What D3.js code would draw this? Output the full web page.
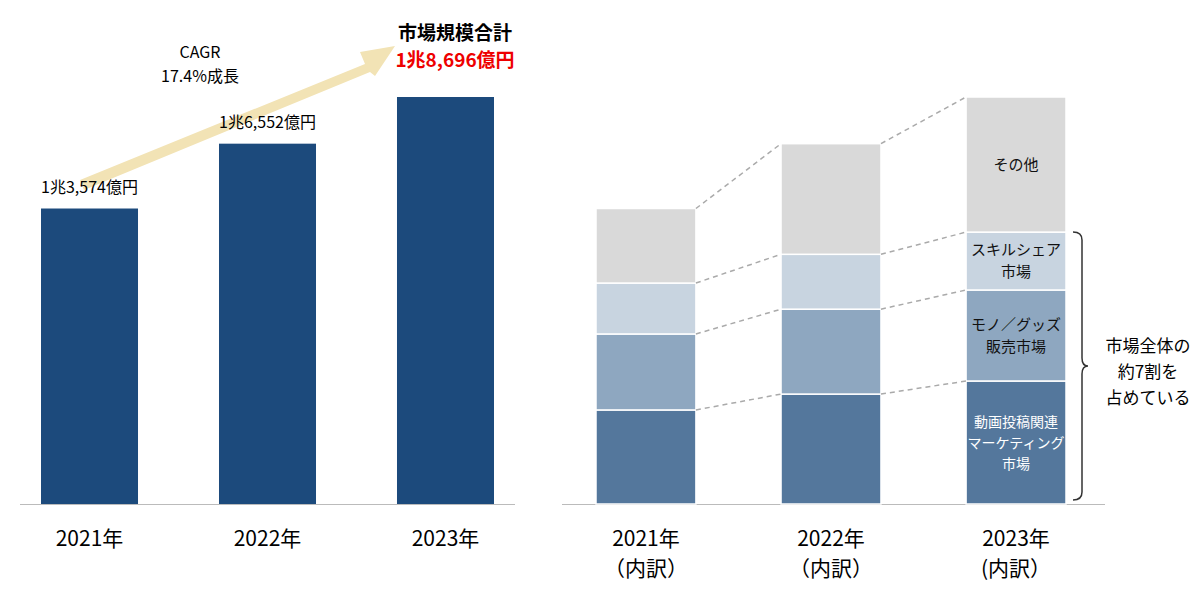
<!DOCTYPE html><html><head><meta charset="utf-8"><script src="https://cdn.jsdelivr.net/npm/d3@7"></script>
<style>body{margin:0;background:#fff}text{font-family:"Noto Sans CJK JP","Noto Sans",sans-serif}</style></head><body>
<svg id="c" width="1200" height="593"></svg>
<script>
const years=["2021年","2022年","2023年"];
const totals=[13574,16552,18696];
const totalLabels=["1兆3,574億円","1兆6,552億円","1兆8,696億円"];
const segNames=["動画投稿関連マーケティング市場","モノ／グッズ販売市場","スキルシェア市場","その他"];
const seg0=[4320,5050,5650];
const seg1=[3490,3900,4180];
const seg2=[2340,2520,2660];
const seg3=[3424,5082,6206];
const colors=["#54779c","#8ea7c0","#c8d4e0","#d9d9d9"];
const svg=d3.select("#c");
const y=d3.scaleLinear().domain([0,18696]).range([504,97]);
const xL=d3.scaleBand().domain(years).range([41,494]).paddingInner(0.455).paddingOuter(0);
const xR=d3.scaleBand().domain(years).range([596,1066]).paddingInner(0.46).paddingOuter(0);
svg.append("path").attr("d","M80,180 L365,64 L360,52 L395,46 L375,76 L370,72 L84,190 Z").attr("fill","#f2e3b5");
svg.selectAll(".lb").data(totals).join("rect").attr("x",(d,i)=>xL(years[i])).attr("width",xL.bandwidth())
 .attr("y",d=>y(d)).attr("height",d=>504-y(d)).attr("fill","#1c4a7c");
svg.append("line").attr("x1",20).attr("x2",515).attr("y1",504.5).attr("y2",504.5).attr("stroke","#bbb");
svg.append("line").attr("x1",562).attr("x2",1105).attr("y1",504.5).attr("y2",504.5).attr("stroke","#bbb");
[0,1].forEach(i=>svg.append("text").attr("x",xL(years[i])+xL.bandwidth()/2).attr("y",y(totals[i])-16).attr("text-anchor","middle").attr("font-size",16).text(totalLabels[i]));
svg.append("text").attr("x",455).attr("y",40).attr("text-anchor","middle").attr("font-size",19).attr("font-weight","bold").text("市場規模合計");
svg.append("text").attr("x",455).attr("y",67).attr("text-anchor","middle").attr("font-size",19).attr("font-weight","bold").attr("fill","#e00").text(totalLabels[2]);
svg.append("text").attr("x",200).attr("y",58).attr("text-anchor","middle").attr("font-size",16).text("CAGR");
svg.append("text").attr("x",200).attr("y",82).attr("text-anchor","middle").attr("font-size",16).text("17.4%成長");
years.forEach(yr=>svg.append("text").attr("x",xL(yr)+xL.bandwidth()/2).attr("y",546).attr("text-anchor","middle").attr("font-size",21).text(yr));
const segs=[seg0,seg1,seg2,seg3];
const tops=years.map((_,i)=>{let c=0;return segs.map(s=>{const b=c;c+=s[i];return [b,c];});});
years.forEach((yr,i)=>{tops[i].forEach((r,k)=>{
 svg.append("rect").attr("x",xR(yr)).attr("width",xR.bandwidth()).attr("y",y(r[1])).attr("height",y(r[0])-y(r[1])).attr("fill",colors[k]).attr("stroke","#fff").attr("stroke-width",1.5);
});});
for(let i=0;i<2;i++){for(let k=0;k<4;k++){
 svg.append("line").attr("x1",xR(years[i])+xR.bandwidth()).attr("y1",y(tops[i][k][1])).attr("x2",xR(years[i+1])).attr("y2",y(tops[i+1][k][1])).attr("stroke","#aaa").attr("stroke-dasharray","5,4").attr("stroke-width",1.5);
}}
const cx=xR(years[2])+xR.bandwidth()/2;
const segLabels=[["動画投稿関連","マーケティング","市場"],["モノ／グッズ","販売市場"],["スキルシェア","市場"],["その他"]];
segLabels.forEach((ls,k)=>{const r=tops[2][k];const m=(y(r[0])+y(r[1]))/2;const lh=k==0?21:22;
 ls.forEach((l,j)=>svg.append("text").attr("x",cx).attr("y",m+(j-(ls.length-1)/2)*lh+5).attr("text-anchor","middle").attr("font-size",k==0?14:15).attr("fill",k==0?"#fff":"#111").text(l));});
const rl=[["2021年","（内訳）"],["2022年","（内訳）"],["2023年","(内訳）"]];
years.forEach((yr,i)=>rl[i].forEach((l,j)=>svg.append("text").attr("x",xR(yr)+xR.bandwidth()/2).attr("y",546+j*30).attr("text-anchor","middle").attr("font-size",21).text(l)));
const bt=y(tops[2][2][1]),bb=500,bm=(bt+bb)/2;
svg.append("path").attr("d",`M1073,${bt} Q1082,${bt} 1082,${bt+8} L1082,${bm-8} Q1082,${bm} 1088,${bm} Q1082,${bm} 1082,${bm+8} L1082,${bb-8} Q1082,${bb} 1073,${bb}`).attr("fill","none").attr("stroke","#333").attr("stroke-width",1.5);
["市場全体の","約7割を","占めている"].forEach((l,j)=>svg.append("text").attr("x",1148).attr("y",352+j*26).attr("text-anchor","middle").attr("font-size",17).text(l));
</script></body></html>
